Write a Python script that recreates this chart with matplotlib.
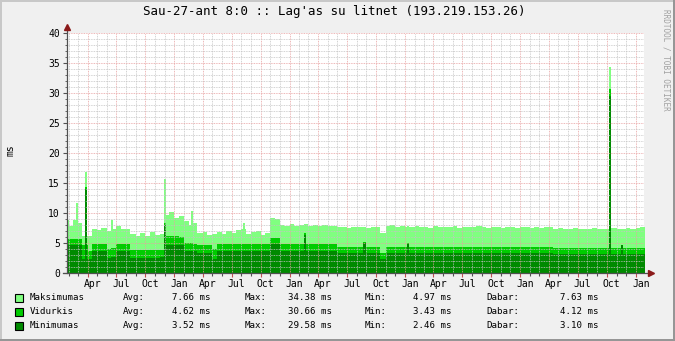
import numpy as np
import pandas as pd
import matplotlib
matplotlib.use('Agg')
import matplotlib.pyplot as plt
import matplotlib.dates as mdates
from matplotlib.ticker import MultipleLocator
from matplotlib.patches import Rectangle
from matplotlib.transforms import ScaledTranslation

plt.rcParams['font.family'] = 'DejaVu Sans Mono'

# semi-monthly samples starting 2004-01-15 (ms)
max_ms = [8.8, 7.8, 8.9, 8.4, 6.1, 6.2, 7.4, 7.2, 7.5, 7.0, 7.4, 7.8,
          7.4, 7.3, 6.5, 6.2, 6.6, 6.1, 6.8, 6.3, 6.5, 9.6, 10.2, 9.2,
          9.5, 8.6, 8.0, 8.4, 6.6, 6.9, 6.4, 6.5, 6.8, 6.5, 7.0, 6.6,
          7.2, 7.4, 6.5, 6.8, 7.0, 6.4, 6.7, 9.1, 9.0, 8.0, 7.9, 8.1,
          7.8, 8.0, 8.2, 7.9, 8.0, 7.8, 8.0, 7.9, 7.8, 7.6, 7.7, 7.5,
          7.7, 7.6, 7.7, 7.5, 7.6, 7.7, 6.6, 7.8, 8.0, 7.7, 7.9, 7.6,
          7.7, 7.8, 7.6, 7.7, 7.5, 7.8, 7.6, 7.7, 7.6, 7.8, 7.5, 7.7,
          7.6, 7.7, 7.8, 7.6, 7.5, 7.7, 7.6, 7.5, 7.6, 7.7, 7.5, 7.6,
          7.7, 7.5, 7.6, 7.5, 7.7, 7.6, 7.4, 7.5, 7.3, 7.4, 7.5, 7.3,
          7.4, 7.3, 7.5, 7.4, 7.3, 7.4, 7.5, 7.3, 7.4, 7.5, 7.4, 7.5,
          7.63]
avg_ms = [5.7, 5.7, 5.7, 5.7, 4.6, 3.7, 4.9, 4.9, 4.9, 4.0, 4.2, 4.9,
          4.9, 4.9, 3.8, 3.8, 3.8, 3.8, 3.8, 3.8, 3.9, 6.2, 6.2, 6.2,
          6.0, 5.0, 5.0, 4.9, 4.7, 4.7, 4.7, 4.0, 4.8, 4.8, 4.8, 4.8,
          4.8, 4.8, 4.8, 4.8, 4.8, 4.8, 4.8, 5.9, 5.9, 4.8, 4.8, 4.8,
          4.8, 4.8, 4.8, 4.8, 4.8, 4.8, 4.8, 4.8, 4.8, 4.4, 4.4, 4.4,
          4.4, 4.4, 4.4, 4.4, 4.4, 4.4, 3.3, 4.4, 4.4, 4.4, 4.4, 4.3,
          4.3, 4.3, 4.3, 4.3, 4.3, 4.3, 4.3, 4.3, 4.3, 4.3, 4.3, 4.3,
          4.3, 4.3, 4.3, 4.3, 4.3, 4.3, 4.3, 4.3, 4.3, 4.3, 4.3, 4.3,
          4.3, 4.3, 4.3, 4.3, 4.3, 4.3, 4.1, 4.1, 4.1, 4.1, 4.1, 4.1,
          4.1, 4.1, 4.1, 4.1, 4.1, 4.1, 4.1, 4.1, 4.1, 4.1, 4.1, 4.1,
          4.12]
min_ms = [4.6, 4.6, 4.6, 4.6, 2.4, 2.4, 3.6, 3.6, 3.6, 2.5, 2.6, 3.6,
          3.6, 3.6, 2.5, 2.5, 2.5, 2.5, 2.5, 2.5, 2.6, 4.7, 4.7, 4.7,
          4.7, 3.6, 3.6, 3.6, 3.4, 3.4, 3.4, 2.4, 3.6, 3.6, 3.6, 3.6,
          3.6, 3.6, 3.6, 3.6, 3.6, 3.6, 3.6, 4.9, 4.9, 3.6, 3.6, 3.6,
          3.6, 3.6, 3.6, 3.6, 3.6, 3.6, 3.6, 3.6, 3.6, 3.3, 3.3, 3.3,
          3.3, 3.3, 3.3, 3.3, 3.3, 3.3, 2.4, 3.3, 3.3, 3.3, 3.3, 3.3,
          3.3, 3.3, 3.3, 3.3, 3.3, 3.3, 3.3, 3.3, 3.3, 3.3, 3.3, 3.3,
          3.3, 3.3, 3.3, 3.3, 3.3, 3.3, 3.3, 3.3, 3.3, 3.3, 3.3, 3.3,
          3.3, 3.3, 3.3, 3.3, 3.3, 3.3, 3.1, 3.1, 3.1, 3.1, 3.1, 3.1,
          3.1, 3.1, 3.1, 3.1, 3.1, 3.1, 3.1, 3.1, 3.1, 3.1, 3.1, 3.1,
          3.1]

# short single-sample spikes
spike_dates = ['2004-02-28', '2004-03-27', '2004-06-18', '2004-12-02', '2005-02-25',
               '2005-08-08', '2006-02-20', '2006-08-26', '2007-01-12', '2008-10-10',
               '2008-11-18']
spike_max = [11.7, 16.9, 8.9, 15.6, 10.4, 8.3, 8.1, 7.7, 7.8, 34.38, 7.4]
spike_avg = [5.7, 14.3, 4.2, 8.4, 5.0, 4.8, 6.6, 5.2, 5.0, 30.66, 4.7]
spike_min = [4.6, 14.0, 2.6, 8.0, 3.6, 3.6, 6.3, 5.0, 4.8, 29.58, 4.7]

series_names = ['Maksimumas', 'Vidurkis', 'Minimumas']
stat_avg = ['7.66', '4.62', '3.52']
stat_max = ['34.38', '30.66', '29.58']
stat_min = ['4.97', '3.43', '2.46']
stat_now = ['7.63', '4.12', '3.10']
colors = ['#80FF80', '#00CC00', '#008A00']

start = pd.Timestamp('2004-01-27')
end = pd.Timestamp('2009-01-27')
dates = pd.date_range('2004-01-15', periods=len(max_ms), freq='SMS')
xs = dates.append(pd.DatetimeIndex([end + pd.Timedelta(days=5)])).to_numpy()

W, H = 675, 341
fig = plt.figure(figsize=(W / 100, H / 100), dpi=100, facecolor='#F0F0F0')


def fx(px):
    return px / W


def fy(py):
    return 1 - py / H


ax = fig.add_axes([fx(67), fy(273), (644 - 67) / W, (273 - 33) / H])
ax.set_facecolor('white')
for s in ax.spines.values():
    s.set_visible(False)

spk = pd.to_datetime(spike_dates)
for vals, sv, c in [(max_ms, spike_max, colors[0]),
                    (avg_ms, spike_avg, colors[1]),
                    (min_ms, spike_min, colors[2])]:
    ax.fill_between(xs, np.append(vals, vals[-1]), step='post', color=c, lw=0)
    ax.bar(spk, sv, width=6.5, color=c, linewidth=0, antialiased=False)

ax.set_xlim(start, end)
ax.set_ylim(0, 40)

ax.xaxis.set_major_locator(mdates.MonthLocator(bymonth=[1, 4, 7, 10]))
ax.xaxis.set_minor_locator(mdates.MonthLocator())
ax.xaxis.set_major_formatter(mdates.DateFormatter('%b'))
ax.yaxis.set_major_locator(MultipleLocator(5))
ax.yaxis.set_minor_locator(MultipleLocator(1))

ax.set_axisbelow(False)
ax.grid(which='minor', color='#C4C4C4', linestyle=(0, (1, 1)), linewidth=0.6)
ax.grid(which='major', color='#E8A0A0', linestyle=(0, (1, 1)), linewidth=0.6)

ax.tick_params(axis='x', which='major', length=3, width=0.8, color='#C05050',
               labelsize=7, pad=1.5)
ax.tick_params(axis='x', which='minor', length=2, width=0.8, color='#505050')
ax.tick_params(axis='y', which='major', length=3, width=0.8, color='#505050',
               labelsize=7, pad=2)
ax.tick_params(axis='y', which='minor', length=1.5, width=0.6, color='#505050')

# month labels sit half a month right of their tick
shift = ScaledTranslation(5 / 100, 0, fig.dpi_scale_trans)
for t in ax.xaxis.get_major_ticks():
    t.label1.set_transform(t.label1.get_transform() + shift)

# axis lines with arrows
axis_col = '#505050'
arrow_col = '#8B1A1A'
ax.plot([0, 0], [0, 1.02], transform=ax.transAxes, color=axis_col, lw=0.9,
        clip_on=False, zorder=5)
ax.plot([-0.007, 1.01], [0, 0], transform=ax.transAxes, color=axis_col, lw=0.9,
        clip_on=False, zorder=5)
ax.plot([0], [1.025], marker='^', ms=4.5, color=arrow_col, transform=ax.transAxes,
        clip_on=False, zorder=6)
ax.plot([1.012], [0], marker='>', ms=4.5, color=arrow_col, transform=ax.transAxes,
        clip_on=False, zorder=6)

fig.text(fx(334), fy(12), "Sau-27-ant 8:0 :: Lag'as su litnet (193.219.153.26)",
         ha='center', va='center', fontsize=9)
fig.text(fx(10), fy(150), 'ms', rotation=90, ha='center', va='center', fontsize=7)
fig.text(fx(666), fy(60), 'RRDTOOL / TOBI OETIKER', rotation=270, ha='center',
         va='center', fontsize=5.5, color='#A0A0A0')

# legend
for i, name in enumerate(series_names):
    yc = 298 + 14 * i
    fig.add_artist(Rectangle((fx(15), fy(yc + 4)), 8 / W, 8 / H, transform=fig.transFigure,
                             facecolor=colors[i], edgecolor='black', linewidth=0.8))
    kw = dict(va='center', fontsize=6.6)
    fig.text(fx(30), fy(yc), name, ha='left', **kw)
    fig.text(fx(123), fy(yc), 'Avg:', ha='left', **kw)
    fig.text(fx(211), fy(yc), stat_avg[i] + ' ms', ha='right', **kw)
    fig.text(fx(245), fy(yc), 'Max:', ha='left', **kw)
    fig.text(fx(332), fy(yc), stat_max[i] + ' ms', ha='right', **kw)
    fig.text(fx(365), fy(yc), 'Min:', ha='left', **kw)
    fig.text(fx(452), fy(yc), stat_min[i] + ' ms', ha='right', **kw)
    fig.text(fx(486), fy(yc), 'Dabar:', ha='left', **kw)
    fig.text(fx(598), fy(yc), stat_now[i] + ' ms', ha='right', **kw)

# frame shading
shade_a, shade_b = '#C8C8C8', '#969696'
fig.add_artist(Rectangle((0, 1 - 2 / H), 1, 2 / H, transform=fig.transFigure,
                         facecolor=shade_a, lw=0))
fig.add_artist(Rectangle((0, 0), 2 / W, 1, transform=fig.transFigure,
                         facecolor=shade_a, lw=0))
fig.add_artist(Rectangle((0, 0), 1, 2 / H, transform=fig.transFigure,
                         facecolor=shade_b, lw=0))
fig.add_artist(Rectangle((1 - 2 / W, 0), 2 / W, 1, transform=fig.transFigure,
                         facecolor=shade_b, lw=0))

fig.savefig('out.png', dpi=100, facecolor=fig.get_facecolor())
